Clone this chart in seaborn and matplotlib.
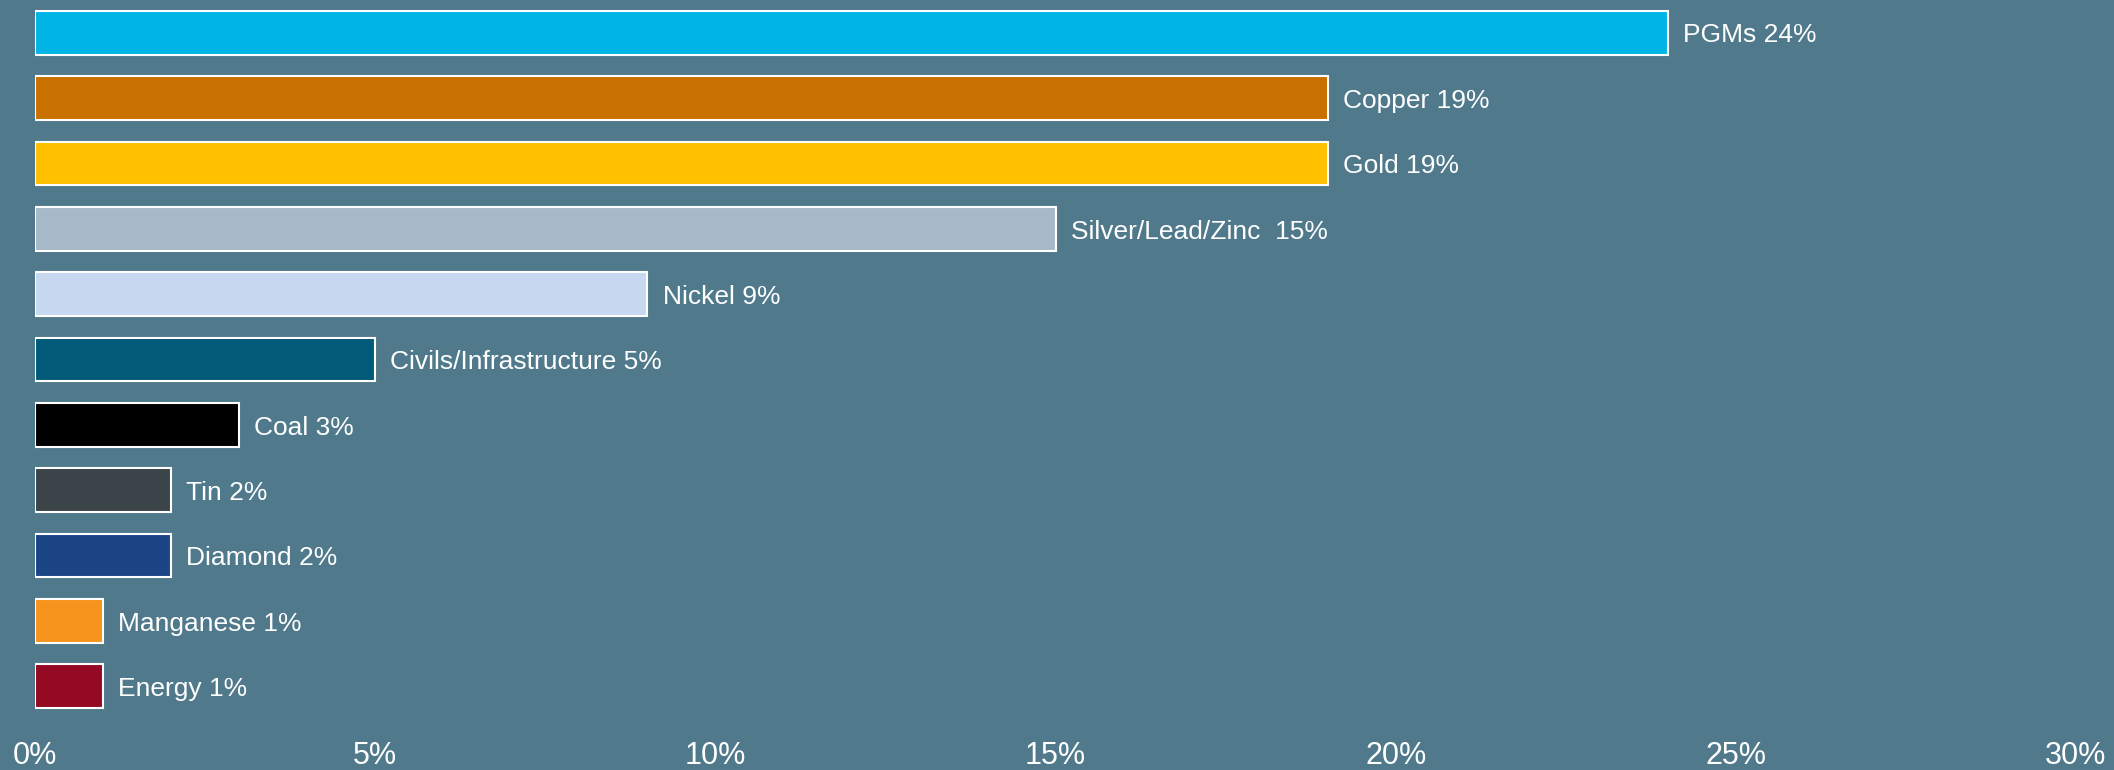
import matplotlib
matplotlib.use("Agg")
import matplotlib.pyplot as plt
import seaborn as sns
import pandas as pd

# Share of activity by commodity (%)
categories = ["PGMs", "Copper", "Gold", "Silver/Lead/Zinc ", "Nickel",
              "Civils/Infrastructure", "Coal", "Tin", "Diamond",
              "Manganese", "Energy"]
shares = [24, 19, 19, 15, 9, 5, 3, 2, 2, 1, 1]
bar_colors = ["#00B4E6", "#C87000", "#FFC000", "#A6B9C8", "#C6D9F1",
              "#005A78", "#000000", "#3A4449", "#1C4586", "#F7941D", "#930A22"]
tick_values = [0, 5, 10, 15, 20, 25, 30]
tick_labels = ["0%", "5%", "10%", "15%", "20%", "25%", "30%"]

bg = "#507A8C"

sns.set_theme(style="white")
plt.rcParams["font.family"] = ["Liberation Sans", "DejaVu Sans"]

df = pd.DataFrame({"category": categories, "share": shares})

fig = plt.figure(figsize=(21.14, 7.70), dpi=100, facecolor=bg)
ax = fig.add_axes([35 / 2114, 1 - 719 / 770, (2076 - 35) / 2114, 719 / 770])
ax.set_facecolor(bg)

sns.barplot(data=df, x="share", y="category", hue="category",
            palette=dict(zip(categories, bar_colors)), orient="h",
            width=0.67, edgecolor="white", linewidth=1.5, saturation=1,
            legend=False, ax=ax)

# Value labels to the right of each bar end
for cont, cat, val in zip(ax.containers, categories, shares):
    bar = cont.patches[0]
    y_mid = bar.get_y() + bar.get_height() / 2
    ax.annotate(f"{cat} {val}%", xy=(bar.get_width(), y_mid),
                xytext=(11, -2), textcoords="offset points",
                ha="left", va="center", color="white", fontsize=19)

ax.set_xlim(0, 30)
ax.set_ylim(len(categories) - 0.5, -0.5)
ax.set_xticks(tick_values)
ax.set_xticklabels(tick_labels, color="white", fontsize=22)
ax.tick_params(axis="x", length=0, pad=16)
ax.set_yticks([])
ax.set_xlabel("")
ax.set_ylabel("")
for s in ax.spines.values():
    s.set_visible(False)

fig.savefig("out.png", dpi=100, facecolor=bg)
